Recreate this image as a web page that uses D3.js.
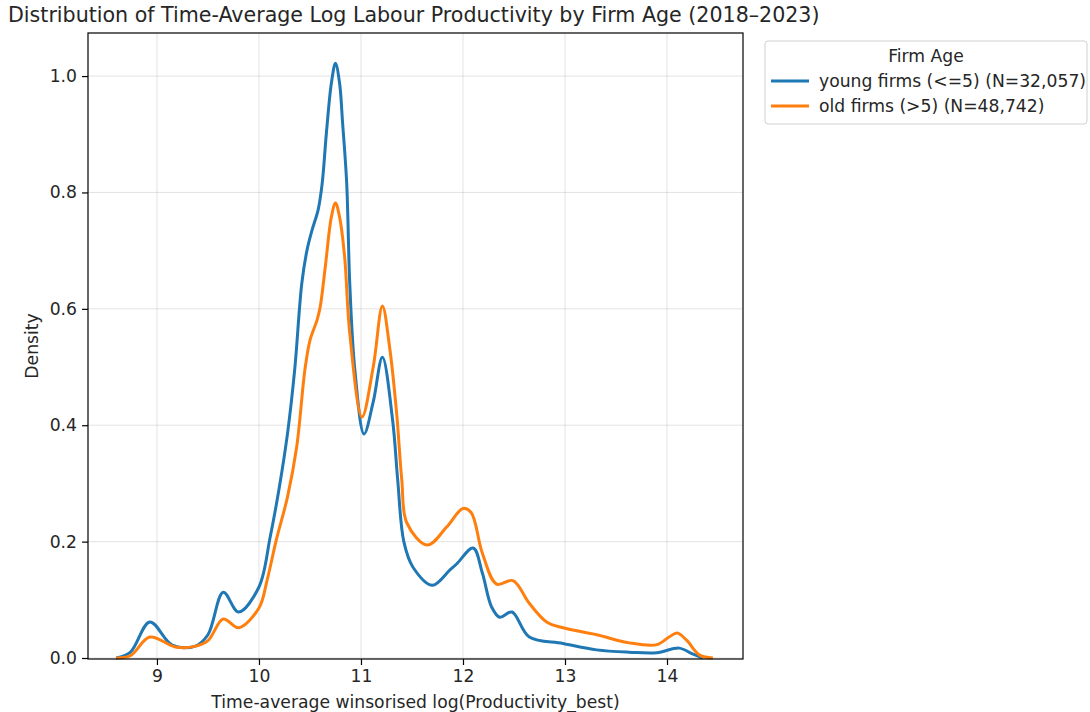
<!DOCTYPE html>
<html>
<head>
<meta charset="utf-8">
<script src="https://cdn.jsdelivr.net/npm/d3@7"></script>
<style>
  body { margin: 0; background: #fff; }
  text { font-family: "DejaVu Sans", sans-serif; fill: #262626; }
</style>
</head>
<body>
<script>
// values
var youngX = [8.6, 8.74, 8.93, 9.15, 9.37, 9.5, 9.65, 9.80, 10.0, 10.11, 10.2, 10.28, 10.35, 10.42, 10.47, 10.52, 10.58, 10.62, 10.66, 10.71, 10.75, 10.79, 10.82, 10.86, 10.89, 10.94, 11.03, 11.12, 11.21, 11.31, 11.36, 11.42, 11.51, 11.70, 11.87, 11.94, 12.10, 12.19, 12.28, 12.36, 12.48, 12.65, 12.98, 13.31, 13.63, 13.9, 14.12, 14.25, 14.35];
var youngY = [0, 0.01, 0.062, 0.022, 0.02, 0.04, 0.113, 0.079, 0.122, 0.208, 0.294, 0.386, 0.495, 0.644, 0.70, 0.735, 0.77, 0.816, 0.90, 0.988, 1.022, 0.988, 0.919, 0.816, 0.644, 0.495, 0.385, 0.44, 0.517, 0.409, 0.306, 0.2, 0.156, 0.125, 0.151, 0.162, 0.189, 0.146, 0.088, 0.07, 0.079, 0.036, 0.025, 0.014, 0.010, 0.009, 0.017, 0.007, 0];

var oldX = [8.6, 8.74, 8.93, 9.18, 9.37, 9.5, 9.65, 9.80, 10.0, 10.08, 10.17, 10.28, 10.37, 10.45, 10.5, 10.57, 10.6, 10.65, 10.71, 10.75, 10.79, 10.84, 10.89, 11.01, 11.12, 11.21, 11.28, 11.35, 11.40, 11.45, 11.65, 11.84, 12.0, 12.08, 12.19, 12.33, 12.49, 12.65, 12.82, 12.98, 13.31, 13.63, 13.9, 14.02, 14.1, 14.19, 14.32, 14.45];
var oldY = [0, 0.004, 0.036, 0.019, 0.02, 0.03, 0.067, 0.052, 0.086, 0.134, 0.203, 0.277, 0.363, 0.495, 0.546, 0.581, 0.603, 0.672, 0.758, 0.782, 0.758, 0.689, 0.558, 0.414, 0.5, 0.605, 0.535, 0.42, 0.306, 0.232, 0.194, 0.225, 0.257, 0.25, 0.18, 0.127, 0.133, 0.094, 0.062, 0.052, 0.04, 0.026, 0.023, 0.036, 0.043, 0.031, 0.005, 0];

var seriesNames = ["young firms (<=5) (N=32,057)", "old firms (>5) (N=48,742)"];
var seriesColors = ["#1f77b4", "#ff7f0e"];
var xTicks = [9, 10, 11, 12, 13, 14];
var yTicks = [0.0, 0.2, 0.4, 0.6, 0.8, 1.0];

var W = 1090, H = 712;
var mLeft = 88, mRight = 743, mTop = 33, mBottom = 659;
var fs = "17.2px";

var svg = d3.select("body").append("svg")
  .attr("width", W)
  .attr("height", H);

var x = d3.scaleLinear().domain([8.324, 14.745]).range([mLeft, mRight]);
var y = d3.scaleLinear().domain([-0.0017, 1.074]).range([mBottom, mTop]);

// grid
svg.append("g").selectAll("line").data(xTicks).enter().append("line")
  .attr("x1", d => x(d)).attr("x2", d => x(d))
  .attr("y1", mTop).attr("y2", mBottom)
  .attr("stroke", "#b0b0b0").attr("stroke-opacity", 0.35).attr("stroke-width", 1);
svg.append("g").selectAll("line").data(yTicks).enter().append("line")
  .attr("x1", mLeft).attr("x2", mRight)
  .attr("y1", d => y(d)).attr("y2", d => y(d))
  .attr("stroke", "#b0b0b0").attr("stroke-opacity", 0.35).attr("stroke-width", 1);

// curves
var line = d3.line()
  .x(d => x(d[0]))
  .y(d => y(Math.max(0, d[1])))
  .curve(d3.curveCatmullRom.alpha(0.5));

var series = [
  d3.zip(youngX, youngY),
  d3.zip(oldX, oldY)
];

svg.selectAll("path.kde").data(series).enter().append("path")
  .attr("class", "kde")
  .attr("d", line)
  .attr("fill", "none")
  .attr("stroke", (d, i) => seriesColors[i])
  .attr("stroke-width", 3)
  .attr("stroke-linejoin", "round");

// axes
var xAxis = d3.axisBottom(x).tickValues(xTicks).tickFormat(d3.format("d")).tickSize(6).tickPadding(5);
var yAxis = d3.axisLeft(y).tickValues(yTicks).tickFormat(d3.format(".1f")).tickSize(6).tickPadding(5);

var gx = svg.append("g").attr("transform", `translate(0,${mBottom})`).call(xAxis);
var gy = svg.append("g").attr("transform", `translate(${mLeft},0)`).call(yAxis);
[gx, gy].forEach(g => {
  g.select(".domain").remove();
  g.selectAll("line").attr("stroke", "#000").attr("stroke-width", 1.2);
  g.selectAll("text").style("font-size", fs).style("font-family", "DejaVu Sans").attr("fill", "#262626");
});

// frame
svg.append("rect")
  .attr("x", mLeft).attr("y", mTop)
  .attr("width", mRight - mLeft).attr("height", mBottom - mTop)
  .attr("fill", "none").attr("stroke", "#000").attr("stroke-width", 1.2);

// title and labels
svg.append("text")
  .attr("x", 8).attr("y", 22)
  .style("font-size", "20.6px")
  .text("Distribution of Time-Average Log Labour Productivity by Firm Age (2018\u20132023)");

svg.append("text")
  .attr("x", (mLeft + mRight) / 2).attr("y", 708)
  .attr("text-anchor", "middle")
  .style("font-size", fs)
  .text("Time-average winsorised log(Productivity_best)");

svg.append("text")
  .attr("transform", `translate(38,${(mTop + mBottom) / 2}) rotate(-90)`)
  .attr("text-anchor", "middle")
  .style("font-size", fs)
  .text("Density");

// legend
var lg = svg.append("g").attr("transform", "translate(765,41)");
lg.append("rect")
  .attr("width", 322).attr("height", 83)
  .attr("rx", 3)
  .attr("fill", "#fff").attr("stroke", "#d0d0d0").attr("stroke-width", 1);
lg.append("text")
  .attr("x", 161).attr("y", 21)
  .attr("text-anchor", "middle")
  .style("font-size", fs)
  .text("Firm Age");
seriesNames.forEach((name, i) => {
  var yy = 40 + i * 25;
  lg.append("line")
    .attr("x1", 6).attr("x2", 44)
    .attr("y1", yy).attr("y2", yy)
    .attr("stroke", seriesColors[i]).attr("stroke-width", 3);
  lg.append("text")
    .attr("x", 54).attr("y", yy + 6)
    .style("font-size", fs)
    .text(name);
});
</script>
</body>
</html>
